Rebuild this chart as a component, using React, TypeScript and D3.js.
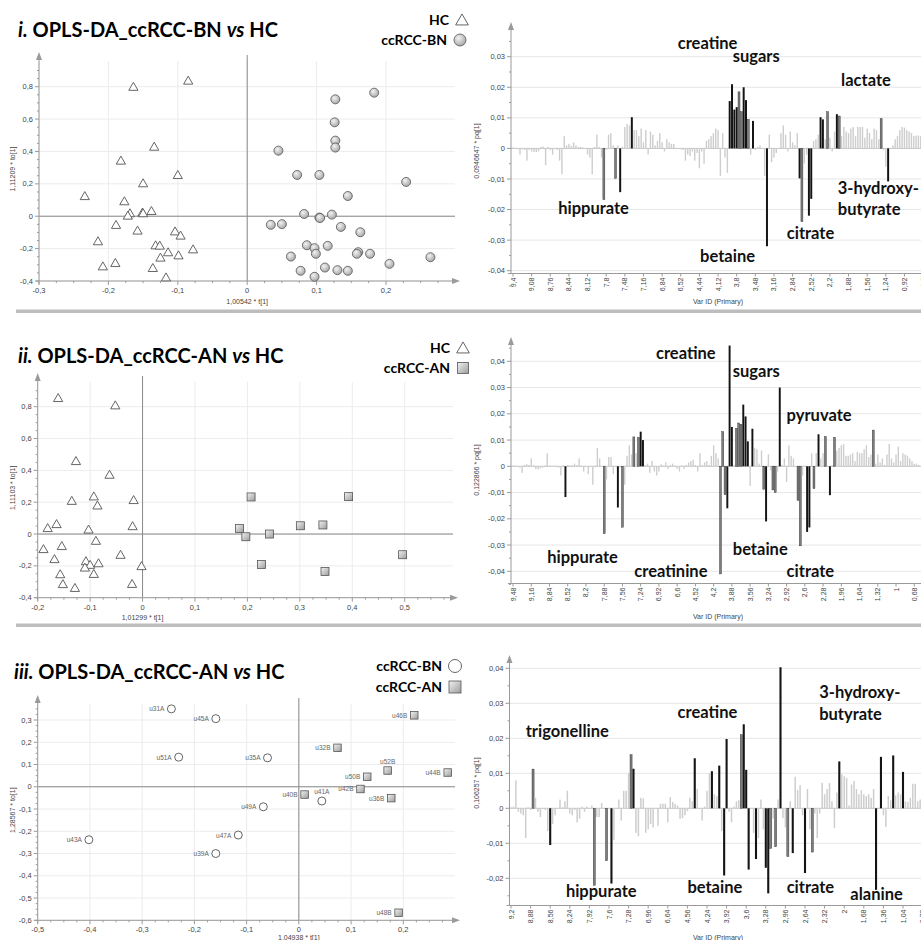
import React from 'react';
import * as d3 from 'd3';

// ---------------- DATA ----------------
type Pt = [number, number];

// Panel i scores: HC (triangles) and ccRCC-BN (filled circles)  [t[1], to[1]]
const hcI: Pt[] = [
  [-0.085, 0.838], [-0.164, 0.8], [-0.134, 0.43], [-0.182, 0.344], [-0.1, 0.255], [-0.15, 0.204],
  [-0.234, 0.125], [-0.177, 0.093], [-0.169, 0.019], [-0.172, 0.004], [-0.151, 0.023], [-0.15, 0.019],
  [-0.138, 0.033], [-0.189, -0.053], [-0.158, -0.088], [-0.104, -0.093], [-0.096, -0.119], [-0.215, -0.154],
  [-0.132, -0.179], [-0.126, -0.181], [-0.078, -0.204], [-0.114, -0.222], [-0.099, -0.241], [-0.125, -0.255],
  [-0.19, -0.288], [-0.208, -0.309], [-0.136, -0.319], [-0.117, -0.377],
];
const bnI: Pt[] = [
  [0.183, 0.763], [0.127, 0.722], [0.126, 0.58], [0.127, 0.467], [0.127, 0.424], [0.045, 0.405],
  [0.072, 0.255], [0.104, 0.255], [0.229, 0.212], [0.145, 0.125], [0.082, 0.014], [0.122, 0.01],
  [0.104, -0.008], [0.105, -0.011], [0.034, -0.053], [0.05, -0.049], [0.135, -0.066], [0.163, -0.099],
  [0.086, -0.179], [0.097, -0.197], [0.116, -0.183], [0.099, -0.232], [0.063, -0.249], [0.16, -0.222],
  [0.158, -0.232], [0.177, -0.232], [0.264, -0.253], [0.205, -0.294], [0.077, -0.337], [0.112, -0.317],
  [0.13, -0.333], [0.145, -0.337], [0.097, -0.374],
];

// Panel ii scores: HC (triangles) and ccRCC-AN (squares)
const hcII: Pt[] = [
  [-0.161, 0.855], [-0.052, 0.809], [-0.127, 0.459], [-0.063, 0.373], [-0.135, 0.209], [-0.093, 0.237],
  [-0.086, 0.18], [-0.017, 0.214], [-0.181, 0.038], [-0.164, 0.063], [-0.103, 0.029], [-0.019, 0.05],
  [-0.189, -0.094], [-0.154, -0.075], [-0.089, -0.042], [-0.042, -0.13], [-0.168, -0.157], [-0.108, -0.17],
  [-0.1, -0.193], [-0.084, -0.183], [-0.11, -0.21], [-0.002, -0.201], [-0.157, -0.252], [-0.093, -0.25],
  [-0.152, -0.314], [-0.129, -0.338], [-0.02, -0.313],
];
const anII: Pt[] = [
  [0.207, 0.233], [0.185, 0.035], [0.197, -0.017], [0.242, 0.0], [0.227, -0.191],
  [0.301, 0.052], [0.344, 0.057], [0.348, -0.235], [0.393, 0.235], [0.496, -0.13],
];

// Panel iii scores: ccRCC-BN (open circles) and ccRCC-AN (squares), with sample ids
const bnIIIIds = ['u31A', 'u45A', 'u51A', 'u35A', 'u49A', 'u41A', 'u47A', 'u39A', 'u43A'];
const bnIII: Pt[] = [
  [-0.244, 0.35], [-0.159, 0.306], [-0.23, 0.133], [-0.06, 0.13], [-0.068, -0.09],
  [0.044, -0.064], [-0.116, -0.217], [-0.159, -0.3], [-0.402, -0.238],
];
const anIIIIds = ['u46B', 'u32B', 'u52B', 'u44B', 'u50B', 'u42B', 'u36B', 'u40B', 'u48B'];
const anIII: Pt[] = [
  [0.221, 0.321], [0.074, 0.175], [0.17, 0.073], [0.285, 0.064], [0.131, 0.045],
  [0.118, -0.01], [0.177, -0.051], [0.011, -0.035], [0.191, -0.566],
];
const idsLabelAbove = ['u41A', 'u52B'];

// Loadings pq[1] (values x 1e-3), one per Var ID bin
const pqI = [
  0.3, 0.2, -0.3, -2, -0.3, -0.5, -4, -0.5, -1, -1.2, -1.2, -1, 0.5, 0.6, -5.5, 0.5, -0.5, -2, 0, -0.5,
  -4, -8.5, 4, 1, 1.5, 0.8, 2, 1, 0.5, 0.5, 0.3, 0, -2, -3, -8.5, 0.5, 4.5, 0.5, -3, -16.8,
  -0.5, 4.5, 5, 1, -9.8, 1, -14.3, 0.5, 7, 8, 7.5, 10.2, 6, 6, 4, 6.5, 2, 6, -2, 5.5,
  4.5, 1, 2.5, 5, 2, -1, 3, 2, 1.5, 1.5, 0.2, 0, -0.3, -0.5, -4, -2, -2.5, -1, -4, -1.5,
  -6.5, -1, -5, 2.5, 3, 4, 5, 6.5, 6, -9, 5, -3, -8, 15.5, 21, 12.7, 13.5, 18.5, 12, 20,
  15.8, 9.5, -2, 9, -0.5, 0.5, 1, 0, -9, -32, 4.5, -4.5, -3, -1.5, 0, 5, 7.5, 4.5, -1, 5.5,
  2, 1, 5, -9.8, -24, -5, -2, -22, -16.5, 2.5, 3, 4.5, 10.2, 9.5, 3, 12, 3.5, -1, 5.5, 11.2,
  10.6, 4, 7, 5.5, 5, 6.5, 7, 4, 7, 7, 7, 3.5, 6.5, 5, 3, 6.5, 6, 3, 9.7, -0.5,
  -6, -10.8, 0, 1, 3, 4, 6, 7, 6.8, 6, 5.5, 5, 4, 4.2, 4.2, 4,
];
const pqIDark = [46, 51, 93, 94, 95, 96, 99, 100, 103, 109, 123, 127, 128, 132, 133, 139, 161];
const pqIMid = [39, 44, 97, 98, 101, 124, 135, 140, 158];
const varTicksI = ['9,4', '9,08', '8,76', '8,44', '8,12', '7,8', '7,48', '7,16', '6,84', '6,52', '4,44', '4,12',
  '3,8', '3,48', '3,16', '2,84', '2,52', '2,2', '1,88', '1,56', '1,24', '0,92', '0,6'];

const pqII = [
  0.3, 0.3, 0.2, -0.5, -2.5, 0.5, 0.8, 0.5, 3, 0.3, -1, -1.2, -0.8, -0.5, 0.3, 5, 0.3, 0.2, 0.3, 0.2,
  -0.5, -3.5, 0.3, -11.7, 0.5, 0.3, 0.5, 1, 0.5, 3, 0.2, -2, 0, -3, 0.2, -7, 0.3, 7, 3, 0,
  -25.7, -5, 3.5, 3.5, -3, 0, -15.7, -0.5, -23.2, -7, 4, 8, 4.5, 11.2, 5, 11, 13.2, 10, 0.5, 1,
  -2.5, 2, -2, -3.5, -2, 0.8, 0.3, 1.5, -1, 0.5, 1, 0.3, -1, -2, 0.3, -1, 0.5, 1.5, 2, 2.5,
  0.5, -2, 5, 0.5, 1.5, 2, 0.5, 4, 8, 5, 3, -41, 13.2, -10.8, -16, 46, 15, 0.5, 14.5, 16.5,
  16, 23.5, 19, 9.5, -7.5, 14.3, 7, 6.5, 1, 6, -8.8, -21, 4.5, -1.5, -9, -10, -2, 30, 0.5, 3,
  -6, 8, 4, 3, 0, -13, -30.3, -3.5, 0, -25, -23.3, 5, -8.5, 5, 12.2, 3, 5, 11.3, 0, -11,
  0.5, 11, 6, 7, 8, 8.5, 4, 4, 4.5, 5, 2, 5.5, 5, 5, 6.5, 8, 3.5, 4.5, 13.8, 1,
  4.5, 1.5, 3, 0.5, 4.5, 8.5, 3, 1.5, 4.5, 7.5, 2, 5, 4.5, 4, 3, 2, 1, 1, 0.5,
];
const pqIIDark = [23, 46, 56, 57, 94, 95, 96, 101, 102, 103, 105, 111, 117, 129, 130, 134, 139];
const pqIIMid = [40, 48, 53, 55, 91, 92, 93, 98, 99, 100, 110, 114, 115, 125, 126, 132, 137, 141, 158];
const varTicksII = ['9,48', '9,16', '8,84', '8,52', '8,2', '7,88', '7,56', '7,24', '6,92', '6,6', '4,52', '4,2',
  '3,88', '3,56', '3,24', '2,92', '2,6', '2,28', '1,96', '1,64', '1,32', '1', '0,68'];

const pqIII = [
  0.3, 0.5, 8, -1, -1.5, -2, -8.5, 0.3, -0.5, 11.2, 3, -1, -2.5, 0, -0.5, -6.5, -10.5, -4.5, -2, 0,
  2.5, 0.3, 2, 5, -1.5, -2, -0.5, -4, -3, 0.5, -1, 0.5, 0, 0.8, -22, -2.5, -2.5, 1.5, 0, -15,
  0, -21.5, -9, 0, 2.5, -3.5, 5, 5, 10, 15.3, 11.3, -7, -8, 3, 2.8, -7, -6, -4.5, -5.5, 0,
  -5, 1.3, 1.3, 1.3, -4, 3.2, 1.8, 1.3, 0.8, -3, -2.8, -2, -0.8, 3, 2, 14.3, 5.5, 0, -3.5, 0.5,
  5, 10, 10.6, 4, 3.5, 12.2, -6.5, -19.2, 19.8, -1, -4, 0.5, 2, 2.3, 21, 24, 11, -17.5, 0, -7,
  -14.5, -8.5, 2.5, -6, -17, -24.3, -11.5, -3, -11, 2.5, 40.3, -2.8, -5.5, -13.8, 2, -12.8, 9, 5.2, 6.6, -2,
  -18.5, 5.5, -6, -12.5, -1.5, -8.5, -1.5, 7.3, 4, 5.5, 7.2, 2, -5.7, 4.5, 13.4, 9.7, 9.2, 8.7, 0.8, 6.8,
  7.8, 5.5, 4, 5.2, 4, 3.5, 4, 3, 5.5, -23.3, 0, 14.7, -2, -5.3, 3.5, 2.3, 15.1, 3.7, 4.5, 4,
  10.4, 2, 1.8, 3, 7, 7, 2, 2.5,
];
const pqIIIDark = [16, 41, 50, 75, 82, 85, 87, 88, 95, 96, 97, 100, 104, 105, 110, 115, 120, 134, 149, 151, 156, 160];
const pqIIIMid = [9, 34, 39, 49, 94, 106, 108, 113, 123];
const varTicksIII = ['9,2', '8,88', '8,56', '8,24', '7,92', '7,6', '7,28', '6,96', '6,64', '4,56', '4,24', '3,92',
  '3,6', '3,28', '2,96', '2,64', '2,32', '2', '1,68', '1,36', '1,04', '0,72'];

// Metabolite annotations: [label, Var ID bin index, pq value x 1e-3] (text start / baseline)
const notesI: [string, number, number][] = [
  ['creatine', 70.7, 32.5], ['sugars', 94.3, 28.2], ['lactate', 140.8, 20.4], ['hippurate', 19.4, -21.5],
  ['betaine', 80.3, -37], ['citrate', 117.5, -29.6], ['3-hydroxy-', 139.4, -14.9], ['butyrate', 139.4, -21.8],
];
const notesII: [string, number, number][] = [
  ['creatine', 62.7, 40.7], ['sugars', 96.4, 33.9], ['pyruvate', 120, 17.1], ['hippurate', 15, -36.8],
  ['creatinine', 53.2, -42], ['betaine', 96.4, -33.7], ['citrate', 120, -42],
];
const notesIII: [string, number, number][] = [
  ['trigonelline', 6, 20.3], ['creatine', 68, 25.8], ['3-hydroxy-', 125.8, 31.5], ['butyrate', 125.8, 25.2],
  ['hippurate', 22.4, -25.4], ['betaine', 72, -24.2], ['citrate', 112.5, -24.2], ['alanine', 138.5, -26.2],
];

// ---------------- STYLE / LAYOUT ----------------
const SMALL = "'Liberation Sans', Arial, sans-serif";
const BOLD = "Lato, 'Open Sans', sans-serif";
const locale = d3.formatLocale({ decimal: ',', thousands: '.', grouping: [3], currency: ['', ''], minus: '-' });
const fmt = locale.format('.2~f');

type Kind = 'tri' | 'dot' | 'ring' | 'sq';

function Marker({ kind, cx, cy, s }: { kind: Kind; cx: number; cy: number; s: number }) {
  if (kind === 'tri') {
    const w = s * 1.15, h = s;
    return <path d={`M${cx},${cy - h * 0.55}L${cx + w / 2},${cy + h * 0.45}L${cx - w / 2},${cy + h * 0.45}Z`}
      fill="#fff" stroke="#555" strokeWidth={0.9} strokeLinejoin="round" />;
  }
  if (kind === 'dot') return <circle cx={cx} cy={cy} r={s / 2} fill="url(#gDot)" stroke="#555" strokeWidth={0.8} />;
  if (kind === 'ring') return <circle cx={cx} cy={cy} r={s / 2} fill="#fff" stroke="#555" strokeWidth={0.9} />;
  return <rect x={cx - s / 2} y={cy - s / 2} width={s} height={s} fill="url(#gSq)" stroke="#555" strokeWidth={0.8} />;
}

function ticksOf(d0: number, d1: number, step: number) {
  const n = Math.round((d1 - d0) / step);
  return d3.range(n + 1).map((k) => +(d0 + k * step).toFixed(3));
}

interface Series { pts: Pt[]; kind: Kind; size: number; ids?: string[] }
interface ScatterCfg {
  xDomain: [number, number]; xRange: [number, number]; yDomain: [number, number]; yRange: [number, number];
  xStep: number; yStep: number; right: number; top: number;
  xTitle: string; xTitleY: number; yTitle: string; series: Series[];
}

function Scatter({ c }: { c: ScatterCfg }) {
  const x = d3.scaleLinear().domain(c.xDomain).range(c.xRange);
  const y = d3.scaleLinear().domain(c.yDomain).range(c.yRange);
  const ax = c.xRange[0];
  const ay = c.yRange[0];
  const xt = ticksOf(c.xDomain[0], c.xDomain[1], c.xStep);
  const yt = ticksOf(c.yDomain[0], c.yDomain[1], c.yStep);
  const xMinor: number[] = [];
  xt.forEach((v) => [1, 2, 3].forEach((k) => { const p = x(v + (k * c.xStep) / 4); if (p < c.right - 6) xMinor.push(p); }));
  const yMinor: number[] = [];
  yt.forEach((v) => [1, 2, 3].forEach((k) => { const p = y(v + (k * c.yStep) / 4); if (p > c.top + 6) yMinor.push(p); }));
  return (
    <g>
      {xt.map((v) => <line key={'gx' + v} x1={x(v)} x2={x(v)} y1={ay} y2={c.top + 4} stroke="#ececec" strokeWidth={1} />)}
      {yt.map((v) => <line key={'gy' + v} x1={ax} x2={c.right} y1={y(v)} y2={y(v)} stroke="#ececec" strokeWidth={1} />)}
      <line x1={x(0)} x2={x(0)} y1={ay} y2={c.top - 2} stroke="#8a8a8a" strokeWidth={1} />
      <line x1={ax} x2={c.right} y1={y(0)} y2={y(0)} stroke="#8a8a8a" strokeWidth={1} />
      {/* axes */}
      <line x1={ax} x2={ax} y1={ay + 3} y2={c.top} stroke="#9a9a9a" strokeWidth={1} />
      <path d={`M${ax},${c.top - 5}L${ax + 3},${c.top + 3}L${ax - 3},${c.top + 3}Z`} fill="#9a9a9a" />
      <line x1={ax - 3} x2={c.right} y1={ay} y2={ay} stroke="#9a9a9a" strokeWidth={1} />
      <path d={`M${c.right + 5},${ay}L${c.right - 3},${ay - 3}L${c.right - 3},${ay + 3}Z`} fill="#9a9a9a" />
      {yt.map((v) => <line key={'ty' + v} x1={ax - 4} x2={ax} y1={y(v)} y2={y(v)} stroke="#9a9a9a" />)}
      {yMinor.map((p, i) => <line key={'my' + i} x1={ax - 2} x2={ax} y1={p} y2={p} stroke="#9a9a9a" />)}
      {xt.map((v) => <line key={'tx' + v} x1={x(v)} x2={x(v)} y1={ay} y2={ay + 4} stroke="#9a9a9a" />)}
      {xMinor.map((p, i) => <line key={'mx' + i} x1={p} x2={p} y1={ay} y2={ay + 2} stroke="#9a9a9a" />)}
      {yt.map((v) => <text key={'ly' + v} x={ax - 6} y={y(v) + 2.6} textAnchor="end" fontSize={7.5} fill="#444" fontFamily={SMALL}>{fmt(v)}</text>)}
      {xt.map((v) => <text key={'lx' + v} x={x(v)} y={ay + 12} textAnchor="middle" fontSize={7.5} fill="#444" fontFamily={SMALL}>{fmt(v)}</text>)}
      <text x={x(0)} y={c.xTitleY} textAnchor="middle" fontSize={7} fill="#444" fontFamily={SMALL}>{c.xTitle}</text>
      <text transform={`translate(15,${(ay + c.top) / 2}) rotate(-90)`} textAnchor="middle" fontSize={7} fill="#444" fontFamily={SMALL}>{c.yTitle}</text>
      {c.series.map((s, si) => (
        <g key={'s' + si}>
          {s.pts.map((p, i) => <Marker key={i} kind={s.kind} cx={x(p[0])} cy={y(p[1])} s={s.size} />)}
          {s.ids && s.pts.map((p, i) => {
            const above = idsLabelAbove.includes(s.ids![i]);
            return (
              <text key={'id' + i} x={above ? x(p[0]) : x(p[0]) - 7} y={above ? y(p[1]) - 7 : y(p[1]) + 2.5}
                textAnchor={above ? 'middle' : 'end'} fontSize={6.5} fill="#666" fontFamily={SMALL}>{s.ids![i]}</text>
            );
          })}
        </g>
      ))}
    </g>
  );
}

interface LoadCfg {
  values: number[]; dark: number[]; mid: number[]; labels: string[]; notes: [string, number, number][];
  x0: number; step: number; axisX: number; yDomain: [number, number]; yRange: [number, number];
  top: number; bottom: number; yTitle: string; titleY: number; xTitleY: number;
}

function Loadings({ c }: { c: LoadCfg }) {
  const n = c.values.length;
  const xb = d3.scaleBand<number>().domain(d3.range(n))
    .range([c.x0 - c.step / 2, c.x0 - c.step / 2 + n * c.step]).paddingInner(0);
  const xc = (i: number) => (xb(0) as number) + xb.bandwidth() / 2 + i * xb.step();
  const y = d3.scaleLinear().domain(c.yDomain).range(c.yRange);
  const yt = ticksOf(c.yDomain[0], c.yDomain[1], 0.01);
  const yMinor = yt.map((v) => y(v + 0.005)).filter((p) => p > c.top + 5);
  yMinor.push(y(c.yDomain[0] - 0.005));
  const R = 921;
  return (
    <g>
      {yt.filter((v) => v !== 0).map((v) => <line key={'g' + v} x1={c.axisX} x2={R} y1={y(v)} y2={y(v)} stroke="#e6e6e6" />)}
      <line x1={c.axisX} x2={R} y1={y(0)} y2={y(0)} stroke="#b5b5b5" strokeWidth={0.8} />
      {c.values.map((v, i) => {
        const val = v / 1000;
        const isDark = c.dark.includes(i);
        const isMid = c.mid.includes(i);
        const w = isDark || isMid ? xb.step() * 0.85 : xb.step() * 0.6;
        const y0 = y(0), y1 = y(val);
        const fill = isDark ? '#141414' : isMid ? '#7d7d7d' : '#cdcdcd';
        return (
          <rect key={i} x={xc(i) - w / 2} y={Math.min(y0, y1)} width={w} height={Math.max(0.4, Math.abs(y1 - y0))}
            fill={fill} stroke={isMid ? '#2a2a2a' : 'none'} strokeWidth={isMid ? 0.4 : 0} />
        );
      })}
      {/* axes */}
      <line x1={c.axisX} x2={c.axisX} y1={c.bottom} y2={c.top} stroke="#9a9a9a" />
      <path d={`M${c.axisX},${c.top - 5}L${c.axisX + 3},${c.top + 3}L${c.axisX - 3},${c.top + 3}Z`} fill="#9a9a9a" />
      <line x1={c.axisX - 3} x2={R} y1={c.bottom} y2={c.bottom} stroke="#9a9a9a" />
      {yt.map((v) => <line key={'t' + v} x1={c.axisX - 4} x2={c.axisX} y1={y(v)} y2={y(v)} stroke="#9a9a9a" />)}
      {yMinor.map((p, i) => <line key={'m' + i} x1={c.axisX - 2} x2={c.axisX} y1={p} y2={p} stroke="#9a9a9a" />)}
      {yt.map((v) => <text key={'l' + v} x={c.axisX - 6} y={y(v) + 2.6} textAnchor="end" fontSize={7.5} fill="#444" fontFamily={SMALL}>{fmt(v)}</text>)}
      {c.labels.map((lab, k) => {
        const px = xc(k * 8);
        return (
          <g key={'x' + k}>
            <line x1={px} x2={px} y1={c.bottom} y2={c.bottom + 3} stroke="#9a9a9a" />
            <text transform={`translate(${px + 2.5},${c.bottom + 4}) rotate(-90)`} textAnchor="end" fontSize={7}
              fill="#444" fontFamily={SMALL}>{lab}</text>
          </g>
        );
      })}
      <text x={718} y={c.xTitleY} textAnchor="middle" fontSize={7} fill="#444" fontFamily={SMALL}>Var ID (Primary)</text>
      <text transform={`translate(479,${c.titleY}) rotate(-90)`} textAnchor="middle" fontSize={7} fill="#444" fontFamily={SMALL}>{c.yTitle}</text>
      {c.notes.map(([t, i, v]) => (
        <text key={t + i} x={xc(i)} y={y(v / 1000)} fontSize={16.5} fontWeight={700} fill="#111" fontFamily={BOLD}>{t}</text>
      ))}
    </g>
  );
}

const scatterCfgs: ScatterCfg[] = [
  {
    xDomain: [-0.3, 0.2], xRange: [39, 386], yDomain: [-0.4, 0.8], yRange: [281, 86.7], xStep: 0.1, yStep: 0.2,
    right: 455, top: 57, xTitle: '1,00542 * t[1]', xTitleY: 303.5, yTitle: '1,11209 * to[1]',
    series: [{ pts: hcI, kind: 'tri', size: 8 }, { pts: bnI, kind: 'dot', size: 9 }],
  },
  {
    xDomain: [-0.2, 0.5], xRange: [37.7, 404.7], yDomain: [-0.4, 0.8], yRange: [597.7, 406.7], xStep: 0.1, yStep: 0.2,
    right: 453, top: 378, xTitle: '1,01299 * t[1]', xTitleY: 620, yTitle: '1,11103 * to[1]',
    series: [{ pts: hcII, kind: 'tri', size: 8 }, { pts: anII, kind: 'sq', size: 8 }],
  },
  {
    xDomain: [-0.5, 0.2], xRange: [37.7, 403.3], yDomain: [-0.6, 0.3], yRange: [920.3, 720], xStep: 0.1, yStep: 0.1,
    right: 455, top: 700, xTitle: '1,04938 * t[1]', xTitleY: 940, yTitle: '1,28567 * to[1]',
    series: [{ pts: bnIII, kind: 'ring', size: 8, ids: bnIIIIds }, { pts: anIII, kind: 'sq', size: 7.5, ids: anIIIIds }],
  },
];

const loadCfgs: LoadCfg[] = [
  {
    values: pqI, dark: pqIDark, mid: pqIMid, labels: varTicksI, notes: notesI, x0: 513, step: 2.33, axisX: 511,
    yDomain: [-0.04, 0.03], yRange: [270.7, 56.7], top: 27, bottom: 273.5, yTitle: '0,0946647 * pq[1]', titleY: 151, xTitleY: 304,
  },
  {
    values: pqII, dark: pqIIDark, mid: pqIIMid, labels: varTicksII, notes: notesII, x0: 513, step: 2.28, axisX: 511,
    yDomain: [-0.04, 0.04], yRange: [571.3, 361.3], top: 342, bottom: 583.5, yTitle: '0,122866 * pq[1]', titleY: 470, xTitleY: 618.5,
  },
  {
    values: pqIII, dark: pqIIIDark, mid: pqIIIMid, labels: varTicksIII, notes: notesIII, x0: 511, step: 2.45, axisX: 509.5,
    yDomain: [-0.02, 0.04], yRange: [878.3, 668.3], top: 660, bottom: 905.5, yTitle: '0,106257 * pq[1]', titleY: 783, xTitleY: 939.5,
  },
];

function Title({ x, y, roman, a }: { x: number; y: number; roman: string; a: string }) {
  return (
    <text x={x} y={y} fontSize={20} fontWeight={700} fill="#000" fontFamily={BOLD} style={{ whiteSpace: 'pre' }}>
      <tspan fontStyle="italic">{roman + '.'}</tspan>
      <tspan>{' OPLS-DA_' + a + ' '}</tspan>
      <tspan fontStyle="italic">vs</tspan>
      <tspan>{' HC'}</tspan>
    </text>
  );
}

function LegendItem({ x, y, label, kind, s }: { x: number; y: number; label: string; kind: Kind; s: number }) {
  return (
    <g>
      <text x={x} y={y + 5} textAnchor="end" fontSize={14} fontWeight={700} fill="#000" fontFamily={BOLD}>{label}</text>
      <Marker kind={kind} cx={x + 13} cy={y} s={s} />
    </g>
  );
}

export default function App() {
  return (
    <div style={{ position: 'absolute', left: 0, top: 0 }}>
      <svg width={921} height={940} style={{ display: 'block', background: '#fff' }}>
        <defs>
          <radialGradient id="gDot" cx="38%" cy="35%" r="70%">
            <stop offset="0" stopColor="#f2f2f2" />
            <stop offset="1" stopColor="#a4a4a4" />
          </radialGradient>
          <linearGradient id="gSq" x1="0" y1="0" x2="1" y2="1">
            <stop offset="0" stopColor="#f2f2f2" />
            <stop offset="1" stopColor="#9c9c9c" />
          </linearGradient>
        </defs>
        <rect x={16} y={309.5} width={905} height={3.5} fill="#bdbdbd" />
        <rect x={16} y={623.5} width={905} height={3.5} fill="#bdbdbd" />

        <Title x={18} y={37} roman="i" a="ccRCC-BN" />
        <Title x={18} y={363} roman="ii" a="ccRCC-AN" />
        <Title x={14} y={679} roman="iii" a="ccRCC-AN" />

        <LegendItem x={449} y={20} label="HC" kind="tri" s={11} />
        <LegendItem x={447} y={40} label="ccRCC-BN" kind="dot" s={12} />
        <LegendItem x={450} y={348} label="HC" kind="tri" s={11} />
        <LegendItem x={450} y={368} label="ccRCC-AN" kind="sq" s={11} />
        <LegendItem x={442} y={666} label="ccRCC-BN" kind="ring" s={13} />
        <LegendItem x={442} y={687} label="ccRCC-AN" kind="sq" s={12} />

        {scatterCfgs.map((c, i) => <Scatter key={'sc' + i} c={c} />)}
        {loadCfgs.map((c, i) => <Loadings key={'ld' + i} c={c} />)}
      </svg>
    </div>
  );
}
